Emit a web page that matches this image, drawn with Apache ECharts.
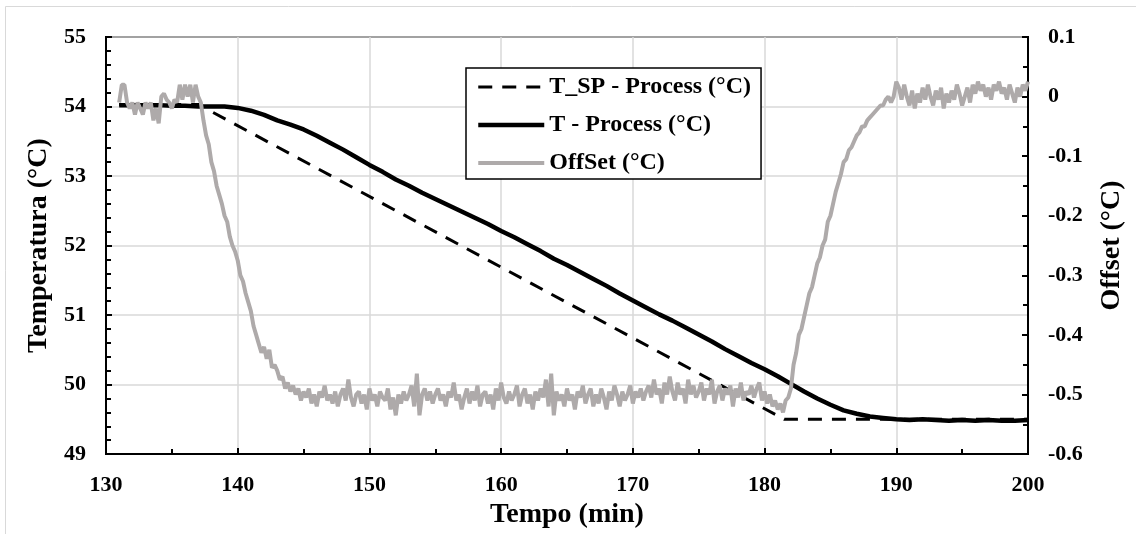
<!DOCTYPE html>
<html>
<head>
<meta charset="utf-8">
<script src="https://cdn.jsdelivr.net/npm/echarts@6/dist/echarts.min.js"></script>
<style>
html,body{margin:0;padding:0;background:#fff;}
#c{width:1136px;height:534px;}
</style>
</head>
<body>
<div id="c"></div>
<script>
// ---- data ----
var seriesNames = ['T_SP - Process (°C)', 'T - Process (°C)', 'OffSet (°C)'];
var xTicks = [130, 140, 150, 160, 170, 180, 190, 200];

// Set point (piecewise ramp)
var spTime = [131, 137, 181.5, 200];
var spValue = [54.03, 54.03, 49.5, 49.5];

// Process temperature
var tTime = [131,132,133,134,135,136,137,138,139,140,141,142,143,144,145,146,147,148,149,150,
             151,152,153,154,155,156,157,158,159,160,161,162,163,164,165,166,167,168,169,170,
             171,172,173,174,175,176,177,178,179,180,181,182,183,184,185,186,187,188,189,190,
             191,192,193,194,195,196,197,198,199,200];
var tValue = [54.02,54.02,54.02,54.02,54.01,54.01,54.00,54.00,54.00,53.98,53.94,53.88,53.80,53.74,53.67,53.58,53.48,53.38,53.27,53.16,
              53.06,52.95,52.86,52.76,52.67,52.58,52.49,52.40,52.31,52.21,52.12,52.02,51.92,51.81,51.72,51.62,51.52,51.42,51.31,51.21,
              51.11,51.01,50.92,50.82,50.72,50.62,50.51,50.41,50.31,50.22,50.12,50.01,49.90,49.80,49.71,49.63,49.58,49.54,49.52,49.50,
              49.49,49.50,49.49,49.48,49.49,49.48,49.49,49.48,49.48,49.49];

// Offset, sampled every 0.2 min, in segments (start time, values)
var offsetStep = 0.2;
var offA_start = 131.0;
var offA = [-0.01,0.02,0.02,-0.01,-0.02, -0.01,-0.03,-0.01,-0.02,-0.03,
            -0.01,-0.02,-0.01,-0.04,-0.02, -0.045,0.0,0.005,-0.005,-0.01,
            -0.02,-0.005,-0.01,0.02,-0.005, 0.02,0.0,0.02,-0.01,0.02, 0.0];
var offB_start = 137.2;
var offB = [-0.01,-0.04,-0.065,-0.08,-0.11,-0.125,-0.15,-0.165,-0.18,-0.20,
            -0.21,-0.235,-0.25,-0.26,-0.275,-0.30,-0.31,-0.33,-0.345,-0.36,
            -0.385,-0.40,-0.415,-0.43,-0.42,-0.44,-0.425,-0.455,-0.45,-0.46,
            -0.475,-0.47,-0.49,-0.48,-0.495,-0.485,-0.50,-0.49,-0.51,-0.495];
var offC_start = 145.2;
var offC = [-0.505,-0.49,-0.515,-0.50,-0.52,-0.495,-0.505,-0.485,-0.51,-0.50,
            -0.515,-0.495,-0.52,-0.50,-0.49,-0.51,-0.475,-0.505,-0.52,-0.50,
            -0.495,-0.515,-0.50,-0.525,-0.49,-0.51,-0.50,-0.52,-0.495,-0.505,
            -0.51,-0.49,-0.525,-0.505,-0.535,-0.50,-0.515,-0.495,-0.51,-0.50,
            -0.485,-0.52,-0.465,-0.535,-0.50,-0.49,-0.51,-0.495,-0.515,-0.50,
            -0.49,-0.51,-0.50,-0.52,-0.495,-0.505,-0.48,-0.51,-0.50,-0.525,
            -0.505,-0.49,-0.515,-0.495,-0.51,-0.485,-0.52,-0.50,-0.495,-0.515,
            -0.50,-0.525,-0.49,-0.51,-0.48,-0.505,-0.515,-0.495,-0.51,-0.50,
            -0.485,-0.52,-0.50,-0.49,-0.515,-0.50,-0.525,-0.495,-0.51,-0.49,
            -0.505,-0.475,-0.52,-0.465,-0.535,-0.495,-0.51,-0.50,-0.52,-0.49,
            -0.51,-0.50,-0.525,-0.495,-0.505,-0.485,-0.515,-0.50,-0.49,-0.52,
            -0.50,-0.515,-0.49,-0.505,-0.525,-0.495,-0.51,-0.485,-0.50,-0.52,
            -0.495,-0.51,-0.50,-0.485,-0.515,-0.495,-0.505,-0.49,-0.51,-0.495,
            -0.485,-0.505,-0.475,-0.50,-0.49,-0.515,-0.48,-0.50,-0.47,-0.495,
            -0.51,-0.48,-0.50,-0.49,-0.515,-0.475,-0.50,-0.485,-0.505,-0.495,
            -0.48,-0.51,-0.49,-0.50,-0.475,-0.515,-0.495,-0.485,-0.51,-0.49,
            -0.50,-0.485,-0.52,-0.49,-0.505,-0.48,-0.51,-0.495,-0.50,-0.485,
            -0.505,-0.49,-0.48,-0.51,-0.495,-0.515,-0.50,-0.52,-0.51,-0.525,
            -0.515,-0.53,-0.51,-0.505];
var offD_start = 182.0;
var offD = [-0.49,-0.45,-0.43,-0.40,-0.39,-0.37,-0.35,-0.33,-0.32,-0.30,
            -0.28,-0.27,-0.25,-0.24,-0.21,-0.20,-0.18,-0.16,-0.145,-0.13,
            -0.11,-0.105,-0.09,-0.085,-0.075,-0.065,-0.06,-0.05,-0.05,-0.04,
            -0.035,-0.03,-0.025,-0.02,-0.015,-0.015,-0.005,0.0,-0.01,0.0,
            0.025];
var offE_start = 190.2;
var offE = [0.015,-0.005,0.02,0.0,-0.015,0.01,-0.02,0.005,-0.01,0.015,
            -0.005,0.02,0.0,-0.015,0.01,-0.005,0.015,-0.02,0.005,-0.01,
            0.01,-0.005,0.02,0.005,-0.015,0.0,0.015,-0.01,0.02,0.005,
            0.025,0.01,0.02,0.0,0.015,-0.005,0.02,0.01,0.025,0.005,
            0.015,-0.005,0.02,0.005,-0.01,0.015,0.0,0.02,0.01,0.025];

// ---- build ----
function pairs(xs, ys){ return xs.map(function(x,i){ return [x, ys[i]]; }); }
function seg(start, vals){ return vals.map(function(v,i){ return [+(start + i*offsetStep).toFixed(2), v]; }); }
var offsetData = [].concat(seg(offA_start,offA), seg(offB_start,offB), seg(offC_start,offC), seg(offD_start,offD), seg(offE_start,offE));

var FONT = "'Liberation Serif', 'Times New Roman', serif";
var chart = echarts.init(document.getElementById('c'), null, {renderer:'canvas'});
var tickLabel = {fontFamily: FONT, fontWeight: 'bold', fontSize: 22, color: '#000'};
var titleStyle = {fontFamily: FONT, fontWeight: 'bold', fontSize: 28, color: '#000'};
var option = {
  animation: false,
  backgroundColor: '#fff',
  textStyle: {fontFamily: FONT},
  graphic: [{
    type: 'rect', silent: true, z: -10,
    shape: {x: 5.5, y: 6.5, width: 1200, height: 600},
    style: {fill: 'none', stroke: '#d9d9d9', lineWidth: 1}
  }],
  grid: {left: 106, top: 37, right: 108, bottom: 78, show: true, borderColor: '#000', borderWidth: 2, backgroundColor: 'transparent'},
  legend: {
    orient: 'vertical', left: 466, top: 68,
    padding: [6, 10, 3, 10],
    backgroundColor: '#fff', borderColor: '#000', borderWidth: 1.5, borderRadius: 0,
    itemWidth: 66, itemHeight: 14, itemGap: 12,
    itemStyle: {opacity: 0},
    lineStyle: {width: 'inherit'},
    textStyle: {fontFamily: FONT, fontWeight: 'bold', fontSize: 24, color: '#000', lineHeight: 26},
    data: seriesNames
  },
  xAxis: {
    type: 'value', min: 130, max: 200, interval: 10,
    name: 'Tempo (min)', nameLocation: 'middle', nameGap: 44,
    nameTextStyle: titleStyle,
    axisLine: {show: true, onZero: false, lineStyle: {color: '#000', width: 2}},
    axisTick: {show: true, inside: true, length: 6, lineStyle: {color: '#000', width: 2}},
    minorTick: {show: true, splitNumber: 2, length: 5, lineStyle: {color: '#000', width: 2}},
    axisLabel: Object.assign({margin: 20,
      formatter: function(v){ return xTicks.indexOf(v) >= 0 ? String(v) : ''; }}, tickLabel),
    splitLine: {show: true, lineStyle: {color: '#d9d9d9', width: 1.5}}
  },
  yAxis: [{
    type: 'value', min: 49, max: 55, interval: 1, position: 'left',
    name: 'Temperatura (°C)', nameLocation: 'middle', nameGap: 46, nameRotate: 90,
    nameTextStyle: titleStyle,
    axisLine: {show: true, onZero: false, lineStyle: {color: '#000', width: 2}},
    axisTick: {show: true, inside: true, length: 6, lineStyle: {color: '#000', width: 2}},
    minorTick: {show: true, splitNumber: 5, length: 5, lineStyle: {color: '#000', width: 2}},
    axisLabel: Object.assign({margin: 20}, tickLabel),
    splitLine: {show: true, lineStyle: {color: '#d9d9d9', width: 1.5}}
  }, {
    type: 'value', min: -0.6, max: 0.1, interval: 0.1, position: 'right',
    name: 'Offset (°C)', nameLocation: 'middle', nameGap: 70, nameRotate: 90,
    nameTextStyle: titleStyle,
    axisLine: {show: true, onZero: false, lineStyle: {color: '#000', width: 2}},
    axisTick: {show: true, inside: true, length: 6, lineStyle: {color: '#000', width: 2}},
    minorTick: {show: true, splitNumber: 2, length: 5, lineStyle: {color: '#000', width: 2}},
    axisLabel: Object.assign({margin: 20,
      formatter: function(v){ var r = Math.round(v*10)/10; return r === 0 ? '0' : String(r); }}, tickLabel),
    splitLine: {show: false}
  }],
  series: [{
    name: seriesNames[0], type: 'line', yAxisIndex: 0, symbol: 'none', silent: true,
    data: pairs(spTime, spValue),
    lineStyle: {color: '#000', width: 3, type: [14, 10]},
    itemStyle: {color: '#000'}
  }, {
    name: seriesNames[1], type: 'line', yAxisIndex: 0, symbol: 'none', silent: true,
    data: pairs(tTime, tValue),
    lineStyle: {color: '#000', width: 4.5},
    itemStyle: {color: '#000'}
  }, {
    name: seriesNames[2], type: 'line', yAxisIndex: 1, symbol: 'none', silent: true,
    data: offsetData,
    lineStyle: {color: '#AEAAAA', width: 4},
    itemStyle: {color: '#AEAAAA'}
  }]
};
chart.setOption(option);
</script>
</body>
</html>
